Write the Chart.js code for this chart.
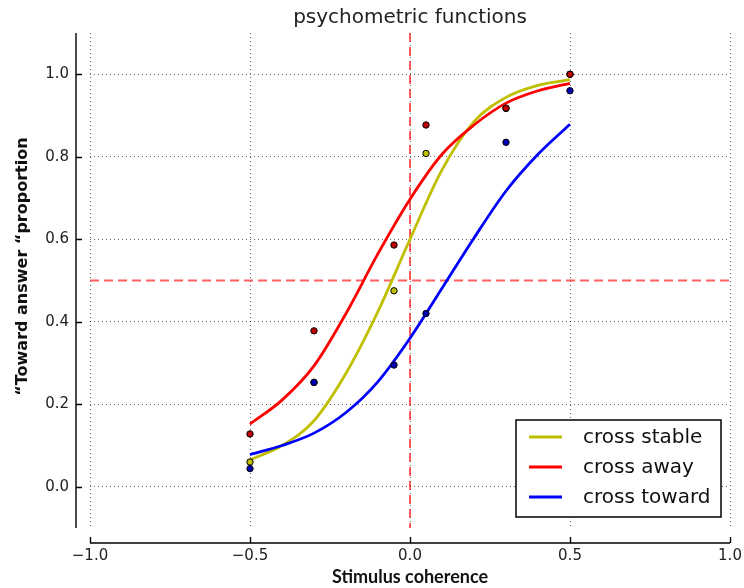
<!DOCTYPE html>
<html>
<head>
<meta charset="utf-8">
<script src="https://cdn.jsdelivr.net/npm/chart.js@4.4.1/dist/chart.umd.min.js"></script>
<style>
  html, body { margin: 0; padding: 0; background: #fff; }
</style>
</head>
<body>
<canvas id="psychChart" width="744" height="588"></canvas>
<script>
// fitted curves, read at 0.1 steps
const fitX = [-0.5, -0.4, -0.3, -0.2, -0.1, 0, 0.1, 0.2, 0.3, 0.4, 0.5];
const stableFit = [0.065, 0.10, 0.16, 0.275, 0.425, 0.60, 0.768, 0.885, 0.944, 0.973, 0.987];
const awayFit = [0.152, 0.21, 0.293, 0.42, 0.565, 0.697, 0.806, 0.877, 0.93, 0.96, 0.978];
const towardFit = [0.078, 0.10, 0.13, 0.18, 0.255, 0.36, 0.481, 0.603, 0.717, 0.806, 0.879];

// observed proportions
const pointX = [-0.5, -0.3, -0.05, 0.05, 0.3, 0.5];
const stablePts = [0.06, 0.253, 0.475, 0.808, 0.917, 1.0];
const awayPts = [0.128, 0.378, 0.586, 0.877, 0.918, 1.0];
const towardPts = [0.044, 0.253, 0.295, 0.42, 0.835, 0.96];

const seriesNames = ['cross stable', 'cross away', 'cross toward'];
const xTicks = [-1, -0.5, 0, 0.5, 1];
const xTickLabels = ['\u22121.0', '\u22120.5', '0.0', '0.5', '1.0'];
const yTicks = [0, 0.2, 0.4, 0.6, 0.8, 1.0];
const yTickLabels = ['0.0', '0.2', '0.4', '0.6', '0.8', '1.0'];
const refX = 0;
const refY = 0.5;

const toXY = (xs, ys) => xs.map((x, i) => ({ x: x, y: ys[i] }));

function curve(label, ys, color, order) {
    return {
        label: label,
        data: toXY(fitX, ys),
        showLine: true,
        borderColor: color,
        backgroundColor: color,
        borderWidth: 2.8,
        pointRadius: 0,
        cubicInterpolationMode: 'monotone',
        fill: false,
        order: order,
        inLegend: true
    };
}

function dots(ys, color, order) {
    return {
        label: '',
        data: toXY(pointX, ys),
        showLine: false,
        pointRadius: 3.2,
        backgroundColor: color,
        borderColor: '#000',
        borderWidth: 1,
        order: order
    };
}

// dashed red reference lines under the data
const refLines = {
    id: 'refLines',
    beforeDatasetsDraw(chart) {
        const { ctx, chartArea: a, scales: { x, y } } = chart;
        const px = x.getPixelForValue(refX);
        const py = y.getPixelForValue(refY);
        ctx.save();
        ctx.strokeStyle = 'rgba(255, 30, 30, 0.7)';
        ctx.lineWidth = 2;
        ctx.setLineDash([9, 5]);
        ctx.beginPath();
        ctx.moveTo(px, a.top);
        ctx.lineTo(px, a.bottom);
        ctx.moveTo(a.left, py);
        ctx.lineTo(a.right, py);
        ctx.stroke();
        ctx.restore();
    }
};

// matplotlib-like offset spines with inward ticks
const spines = {
    id: 'spines',
    afterDraw(chart) {
        const { ctx, chartArea: a, scales: { x, y } } = chart;
        const sx = a.left - 14;
        const sy = a.bottom + 15;
        ctx.save();
        ctx.strokeStyle = '#000';
        ctx.lineWidth = 1.4;
        ctx.beginPath();
        ctx.moveTo(sx, a.top);
        ctx.lineTo(sx, a.bottom);
        ctx.moveTo(a.left, sy);
        ctx.lineTo(a.right, sy);
        y.ticks.forEach(t => {
            const py = Math.round(y.getPixelForValue(t.value)) + 0.5;
            ctx.moveTo(sx, py);
            ctx.lineTo(sx + 6, py);
        });
        x.ticks.forEach(t => {
            const px = Math.round(x.getPixelForValue(t.value)) + 0.5;
            ctx.moveTo(px, sy);
            ctx.lineTo(px, sy - 6);
        });
        ctx.stroke();
        ctx.restore();
    }
};

// boxed legend in the lower right corner of the plot
const boxLegend = {
    id: 'boxLegend',
    afterDraw(chart) {
        const { ctx, chartArea: a } = chart;
        const items = chart.data.datasets.filter(d => d.inLegend);
        const left = a.right - 214;
        const top = a.bottom - 108;
        ctx.save();
        ctx.fillStyle = '#fff';
        ctx.fillRect(left, top, 205, 97);
        ctx.strokeStyle = '#000';
        ctx.lineWidth = 1.5;
        ctx.strokeRect(left, top, 205, 97);
        ctx.font = '20px "DejaVu Sans"';
        ctx.textBaseline = 'alphabetic';
        items.forEach((d, i) => {
            const ly = top + 17 + i * 30;
            ctx.strokeStyle = d.borderColor;
            ctx.lineWidth = 3;
            ctx.beginPath();
            ctx.moveTo(left + 13, ly);
            ctx.lineTo(left + 46, ly);
            ctx.stroke();
            ctx.fillStyle = '#111';
            ctx.fillText(d.label, left + 67, ly + 6);
        });
        ctx.restore();
    }
};

const tickFont = { family: 'DejaVu Sans', size: 15 };

new Chart(document.getElementById('psychChart'), {
    type: 'scatter',
    data: {
        datasets: [
            curve(seriesNames[0], stableFit, '#bfbf00', 13),
            curve(seriesNames[1], awayFit, '#ff0000', 12),
            curve(seriesNames[2], towardFit, '#0000ff', 11),
            dots(stablePts, '#bfbf00', 3),
            dots(awayPts, '#c00000', 2),
            dots(towardPts, '#0000b0', 1)
        ]
    },
    options: {
        responsive: false,
        animation: false,
        devicePixelRatio: 1,
        layout: { padding: { right: 14 } },
        plugins: {
            legend: { display: false },
            tooltip: { enabled: false },
            title: {
                display: true,
                fullSize: false,
                text: 'psychometric functions',
                color: '#222',
                font: { family: 'DejaVu Sans', size: 20, weight: 'normal' },
                padding: { top: 6, bottom: 3 }
            }
        },
        scales: {
            x: {
                type: 'linear',
                min: -1,
                max: 1,
                afterBuildTicks: s => { s.ticks = xTicks.map(v => ({ value: v })); },
                afterFit: s => { s.height = 60; },
                ticks: {
                    callback: (v, i) => xTickLabels[i],
                    font: tickFont,
                    color: '#222',
                    padding: 0,
                    maxRotation: 0
                },
                // invisible tick marks only push the labels down
                grid: { color: 'rgba(0,0,0,0.6)', lineWidth: 1, drawTicks: true, tickLength: 19, tickColor: 'rgba(0,0,0,0)' },
                border: { display: false, dash: [1, 3] },
                title: {
                    display: true,
                    text: 'Stimulus coherence',
                    color: '#111',
                    font: { family: 'Lato', size: 18, weight: 'bold' },
                    padding: { top: 0, bottom: 0 }
                }
            },
            y: {
                type: 'linear',
                min: -0.1,
                max: 1.1,
                afterBuildTicks: s => { s.ticks = yTicks.map(v => ({ value: v })); },
                afterFit: s => { s.width = 90; },
                ticks: {
                    callback: (v, i) => yTickLabels[i],
                    font: tickFont,
                    color: '#222',
                    padding: 21
                },
                grid: { color: 'rgba(0,0,0,0.6)', lineWidth: 1, drawTicks: false },
                border: { display: false, dash: [1, 3] },
                title: {
                    display: true,
                    text: '\u00a0\u00a0\u00a0\u00a0\u00a0\u201cToward answer \u201cproportion',
                    color: '#111',
                    font: { family: 'DejaVu Sans', size: 16, weight: 'bold' },
                    padding: { top: 13, bottom: 0 }
                }
            }
        }
    },
    plugins: [refLines, spines, boxLegend]
});
</script>
</body>
</html>
